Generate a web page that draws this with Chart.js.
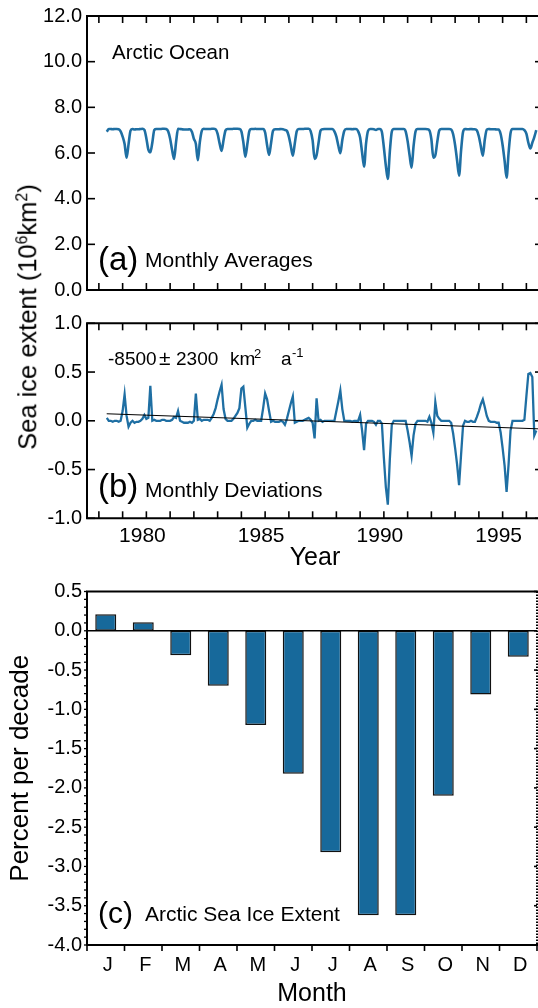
<!DOCTYPE html>
<html>
<head>
<meta charset="utf-8">
<script src="https://cdn.jsdelivr.net/npm/chart.js@4.4.1/dist/chart.umd.min.js"></script>
<style>
  html, body { margin: 0; padding: 0; background: #fff; }
  body { width: 538px; height: 1008px; overflow: hidden; position: relative; font-family: "Liberation Sans", Arial, sans-serif; }
  canvas { position: absolute; left: 0; }
  #chartA { top: 0; }
  #chartB { top: 300px; }
  #chartC { top: 575px; }
  .ytitle { position: absolute; white-space: nowrap; font-size: 25.5px; line-height: 1; color: #000;
            transform: translate(-50%, -50%) rotate(-90deg); }
  .ytitle sup { font-size: 0.62em; vertical-align: 0.55em; line-height: 0; }
</style>
</head>
<body>
<canvas id="chartA" width="560" height="300"></canvas>
<canvas id="chartB" width="560" height="275"></canvas>
<canvas id="chartC" width="560" height="433"></canvas>
<div class="ytitle" style="left:28px; top:317px">Sea ice extent (10<sup>6</sup>km<sup>2</sup>)</div>
<script>
const BLUE = '#1f6fa3';
const BAR_BLUE = '#17699b';
const FONT = "'Liberation Sans', Arial, Helvetica, sans-serif";

// monthly series start in November 1978
const startYear = 1978;
const startMonth = 11;

// (a) Arctic Ocean monthly average extent, 10^6 km^2
const extent = [
  6.93, 7.05,                                                             // 1978 Nov-Dec
  7.05, 7.04, 7.05, 7.05, 7.04, 6.95, 6.72, 6.39, 5.79, 6.39, 6.98, 7.05, // 1979
  7.03, 7.04, 7.04, 7.05, 7.06, 7.01, 6.64, 6.15, 6.03, 6.45, 7.01, 7.05, // 1980
  7.05, 7.05, 7.06, 7.06, 7.05, 6.95, 6.62, 6.13, 5.74, 6.48, 7.06, 7.05, // 1981
  7.04, 7.03, 7.03, 7.03, 7.04, 6.93, 6.62, 6.40, 5.68, 6.47, 6.97, 7.06, // 1982
  7.05, 7.05, 7.05, 7.06, 7.06, 7.04, 6.84, 6.42, 6.09, 6.57, 6.99, 7.05, // 1983
  7.05, 7.05, 7.06, 7.06, 7.06, 7.05, 6.95, 6.47, 5.84, 6.38, 6.95, 7.05, // 1984
  7.05, 7.06, 7.05, 7.05, 7.05, 7.05, 6.90, 6.34, 5.91, 6.44, 6.97, 7.04, // 1985
  7.04, 7.04, 7.05, 7.04, 7.01, 6.97, 6.72, 6.30, 5.88, 6.43, 6.96, 7.05, // 1986
  7.05, 7.05, 7.06, 7.06, 7.06, 6.96, 6.55, 5.74, 5.90, 6.45, 6.98, 7.04, // 1987
  7.05, 7.05, 7.05, 7.05, 7.05, 6.95, 6.72, 6.32, 5.99, 6.57, 6.97, 7.05, // 1988
  7.05, 7.05, 7.04, 7.05, 7.05, 6.95, 6.68, 6.02, 5.40, 6.42, 6.97, 7.05, // 1989
  7.05, 7.04, 7.01, 7.05, 7.05, 6.92, 6.24, 5.44, 4.86, 6.05, 6.93, 7.05, // 1990
  7.05, 7.05, 7.05, 7.05, 7.05, 6.95, 6.52, 5.90, 5.36, 6.30, 6.94, 7.05, // 1991
  7.05, 7.05, 7.05, 7.05, 7.04, 6.99, 6.60, 5.79, 5.90, 6.50, 6.99, 7.05, // 1992
  7.05, 7.05, 7.05, 7.05, 7.03, 6.82, 6.34, 5.67, 5.01, 6.10, 6.92, 7.05, // 1993
  7.04, 7.04, 7.05, 7.04, 7.04, 6.99, 6.72, 6.29, 5.88, 6.59, 7.02, 7.05, // 1994
  7.04, 7.04, 7.04, 7.03, 7.03, 6.83, 6.34, 5.66, 4.92, 6.00, 6.87, 7.05, // 1995
  7.05, 7.05, 7.05, 7.05, 7.05, 7.00, 6.85, 6.45, 6.20, 6.45, 6.70, 7.00  // 1996
];

// (b) monthly deviations, 10^6 km^2
const deviation = [
  0.03, 0.00,                                                                 // 1978 Nov-Dec
  0.00, -0.01, 0.00, 0.00, -0.01, 0.00, 0.10, 0.27, 0.05, -0.06, -0.02, 0.00,  // 1979
  -0.02, -0.01, -0.01, 0.00, 0.02, 0.06, 0.02, 0.03, 0.36, 0.00, 0.01, 0.00,   // 1980
  0.00, 0.00, 0.01, 0.01, 0.00, 0.00, 0.00, 0.01, 0.04, 0.03, 0.10, 0.00,      // 1981
  -0.01, -0.02, -0.02, -0.02, -0.01, -0.02, 0.00, 0.28, 0.01, 0.02, 0.00, 0.01, // 1982
  0.01, 0.01, 0.00, 0.03, 0.07, 0.13, 0.22, 0.30, 0.37, 0.12, 0.02, 0.00,      // 1983
  0.00, 0.00, 0.02, 0.05, 0.08, 0.13, 0.33, 0.35, 0.14, -0.07, -0.03, 0.00,    // 1984
  0.00, 0.01, 0.00, 0.00, 0.00, 0.13, 0.28, 0.22, 0.10, -0.01, 0.00, -0.01,    // 1985
  -0.01, -0.01, 0.00, -0.01, -0.04, 0.02, 0.10, 0.18, 0.25, -0.02, -0.01, 0.00, // 1986
  0.00, 0.00, 0.01, 0.02, 0.03, 0.01, -0.02, -0.18, 0.23, 0.00, 0.01, -0.01,   // 1987
  0.00, 0.00, 0.00, 0.00, 0.00, 0.00, 0.10, 0.20, 0.31, 0.12, 0.00, 0.00,      // 1988
  0.00, 0.00, -0.01, 0.00, 0.00, 0.00, 0.06, -0.10, -0.30, -0.03, 0.00, 0.00,  // 1989
  0.00, -0.01, -0.04, 0.00, 0.00, -0.03, -0.38, -0.68, -0.86, -0.40, -0.04, 0.00, // 1990
  0.00, 0.00, 0.00, 0.00, 0.00, 0.00, -0.10, -0.22, -0.36, -0.15, -0.03, 0.00, // 1991
  0.00, 0.00, 0.00, 0.00, -0.01, 0.04, -0.02, -0.12, 0.19, 0.05, 0.02, 0.00,   // 1992
  0.00, 0.00, 0.00, 0.00, -0.02, -0.13, -0.28, -0.45, -0.66, -0.35, -0.05, 0.00, // 1993
  -0.01, -0.01, 0.00, -0.01, -0.01, 0.04, 0.10, 0.17, 0.22, 0.14, 0.05, 0.00,  // 1994
  -0.01, -0.01, -0.01, -0.02, -0.02, -0.12, -0.28, -0.46, -0.73, -0.45, -0.10, 0.00, // 1995
  0.00, 0.00, 0.00, 0.00, 0.00, 0.01, 0.25, 0.48, 0.49, 0.45, -0.15, -0.10     // 1996
];

// linear trend, -8500 km^2 per year
const trendYears = [1978.83, 1997.2];
const trendValues = [0.072, -0.084];

const yearTicks = [1980, 1985, 1990, 1995];

// (c) trend by month, percent per decade
const months = ['J', 'F', 'M', 'A', 'M', 'J', 'J', 'A', 'S', 'O', 'N', 'D'];
const percentPerDecade = [0.21, 0.11, -0.31, -0.70, -1.20, -1.82, -2.82, -3.62, -3.62, -2.10, -0.81, -0.33];

Chart.defaults.font.family = FONT;
Chart.defaults.color = '#000';

const monthTime = i => startYear + (startMonth - 1 + i) / 12;

// year tick marks sit at mid-year
const yearMarks = [];
for (let yr = 1978; yr <= 1996; yr++) yearMarks.push(yr + 0.5);

function seg(ctx, x1, y1, x2, y2) {
  ctx.beginPath();
  ctx.moveTo(x1, y1);
  ctx.lineTo(x2, y2);
  ctx.stroke();
}

// box, tick marks and in-plot labels
const framePlugin = {
  id: 'frame',
  afterDatasetsDraw(chart, args, o) {
    const { ctx, chartArea: a } = chart;
    const x = chart.scales.x, y = chart.scales.y;
    ctx.save();
    ctx.strokeStyle = '#000';
    ctx.fillStyle = '#000';
    if (o.zeroLine) {
      ctx.lineWidth = 1.6;
      const p = y.getPixelForValue(0);
      seg(ctx, a.left, p, a.right, p);
    }
    ctx.lineWidth = 1.6;
    const len = o.tickLen || 7;
    (o.xTicks || []).forEach(v => {
      const p = x.getPixelForValue(v);
      if (o.xTop) seg(ctx, p, a.top, p, a.top + len);
      if (o.xBottom === 'in') seg(ctx, p, a.bottom, p, a.bottom - len);
      if (o.xBottom === 'out') seg(ctx, p, a.bottom, p, a.bottom + len);
    });
    (o.yTicks || []).forEach(v => {
      const p = y.getPixelForValue(v);
      if (o.yLeft) seg(ctx, a.left, p, a.left + o.yLeft, p);
      if (o.yRight) seg(ctx, a.right, p, a.right - o.yRight, p);
    });
    ctx.lineWidth = 1.3;
    (o.yMinor || []).forEach(v => {
      const p = y.getPixelForValue(v);
      seg(ctx, a.left, p, a.left - o.minorLen, p);
    });
    ctx.lineWidth = 2;
    seg(ctx, a.left - 1, a.top, a.right + 1, a.top);
    seg(ctx, a.left - 1, a.bottom, a.right + 1, a.bottom);
    seg(ctx, a.left, a.top, a.left, a.bottom);
    if (o.rightDotted) ctx.setLineDash([1.5, 1.5]);
    seg(ctx, a.right, a.top, a.right, a.bottom);
    ctx.setLineDash([]);
    (o.texts || []).forEach(t => {
      ctx.font = t.size + 'px ' + FONT;
      ctx.fillText(t.text, t.x, t.y);
    });
    ctx.restore();
  }
};

const fixY = s => { s.width = 87; s.paddingTop = 0; s.paddingBottom = 0; };
const fixX = h => s => { s.height = h; s.paddingLeft = 0; s.paddingRight = 0; };
const noGrid = { display: false, drawTicks: false };
const noBorder = { display: false };

// (a) monthly averages
new Chart(document.getElementById('chartA'), {
  type: 'line',
  data: {
    datasets: [{
      data: extent.map((v, i) => ({ x: monthTime(i), y: v })),
      borderColor: BLUE,
      borderWidth: 2.6,
      pointRadius: 0,
      cubicInterpolationMode: 'monotone'
    }]
  },
  options: {
    responsive: false,
    animation: false,
    layout: { padding: { top: 16, bottom: 10, left: 0, right: 17 } },
    plugins: {
      legend: { display: false },
      tooltip: { enabled: false },
      frame: {
        xTicks: yearMarks, xTop: true, xBottom: 'in', tickLen: 7,
        yTicks: [0, 2, 4, 6, 8, 10, 12], yLeft: 8, yRight: 8,
        texts: [
          { text: 'Arctic Ocean', x: 112, y: 59, size: 20.5 },
          { text: '(a)', x: 98, y: 270, size: 33 },
          { text: 'Monthly Averages', x: 145, y: 267, size: 21 }
        ]
      }
    },
    scales: {
      x: { type: 'linear', min: 1978, max: 1997.2, display: false },
      y: {
        min: 0, max: 12,
        afterFit: fixY,
        grid: noGrid, border: noBorder,
        ticks: { stepSize: 2, padding: 5, font: { size: 20 }, callback: v => v.toFixed(1) }
      }
    }
  },
  plugins: [framePlugin]
});

// (b) monthly deviations with trend
new Chart(document.getElementById('chartB'), {
  type: 'line',
  data: {
    datasets: [
      {
        data: trendYears.map((t, i) => ({ x: t, y: trendValues[i] })),
        borderColor: '#000',
        borderWidth: 1,
        pointRadius: 0
      },
      {
        data: deviation.map((v, i) => ({ x: monthTime(i), y: v })),
        borderColor: BLUE,
        borderWidth: 2.3,
        pointRadius: 0
      }
    ]
  },
  options: {
    responsive: false,
    animation: false,
    layout: { padding: { top: 23.3, bottom: 0, left: 0, right: 17 } },
    plugins: {
      legend: { display: false },
      tooltip: { enabled: false },
      frame: {
        xTicks: yearMarks, xTop: true, xBottom: 'in', tickLen: 7,
        yTicks: [-1, -0.5, 0, 0.5, 1], yLeft: 8, yRight: 8,
        texts: [
          { text: '-8500', x: 108, y: 65, size: 19 },
          { text: '\u00b1', x: 159, y: 65, size: 21 },
          { text: '2300', x: 176, y: 65, size: 19 },
          { text: 'km', x: 230, y: 65, size: 19 },
          { text: '2', x: 254, y: 58, size: 13 },
          { text: 'a', x: 281, y: 65, size: 19 },
          { text: '-1', x: 292, y: 57, size: 13 },
          { text: '(b)', x: 98, y: 197, size: 33 },
          { text: 'Monthly Deviations', x: 145, y: 197, size: 21 }
        ]
      }
    },
    scales: {
      x: {
        type: 'linear', min: 1978, max: 1997.2,
        afterBuildTicks: s => { s.ticks = yearTicks.map(v => ({ value: v + 0.5 })); },
        afterFit: fixX(56.7),
        grid: noGrid, border: noBorder,
        ticks: { autoSkip: false, maxRotation: 0, padding: 5.7, labelOffset: -4, font: { size: 21 },
                 callback: v => String(Math.floor(v)) },
        title: { display: true, text: 'Year', font: { size: 25, lineHeight: 1 }, padding: { top: 0, bottom: 4.5 } }
      },
      y: {
        min: -1, max: 1,
        afterFit: fixY,
        grid: noGrid, border: noBorder,
        ticks: { stepSize: 0.5, padding: 5, font: { size: 20 }, callback: v => v.toFixed(1) }
      }
    }
  },
  plugins: [framePlugin]
});

// (c) trend per calendar month
const minorTicks = [];
for (let k = -40; k <= 5; k++) minorTicks.push(k / 10);

new Chart(document.getElementById('chartC'), {
  type: 'bar',
  data: {
    labels: months,
    datasets: [{
      data: percentPerDecade,
      backgroundColor: BAR_BLUE,
      borderColor: '#111',
      borderWidth: 1.5,
      borderSkipped: false,
      barPercentage: 0.56,
      categoryPercentage: 1
    }]
  },
  options: {
    responsive: false,
    animation: false,
    layout: { padding: { top: 16.5, bottom: 0, left: 0, right: 23 } },
    plugins: {
      legend: { display: false },
      tooltip: { enabled: false },
      frame: {
        zeroLine: true,
        xTicks: [-0.5, 0.5, 1.5, 2.5, 3.5, 4.5, 5.5, 6.5, 7.5, 8.5, 9.5, 10.5, 11.5], xBottom: 'out', tickLen: 6,
        yTicks: [-4, -3.5, -3, -2.5, -2, -1.5, -1, -0.5, 0, 0.5], yRight: 3,
        yMinor: minorTicks, minorLen: 3,
        rightDotted: true,
        texts: [
          { text: '(c)', x: 98, y: 348, size: 30 },
          { text: 'Arctic Sea Ice Extent', x: 145, y: 346, size: 21 }
        ]
      }
    },
    scales: {
      x: {
        offset: true,
        afterFit: fixX(63),
        grid: noGrid, border: noBorder,
        ticks: { padding: 8.7, labelOffset: 2, font: { size: 20 }, maxRotation: 0, autoSkip: false },
        title: { display: true, text: 'Month', font: { size: 25, lineHeight: 1 }, padding: { top: 0, bottom: 1 } }
      },
      y: {
        min: -4, max: 0.5,
        afterFit: fixY,
        grid: noGrid, border: noBorder,
        ticks: { stepSize: 0.5, padding: 5, font: { size: 20 }, callback: v => v.toFixed(1) },
        title: { display: true, text: 'Percent per decade', font: { size: 26, lineHeight: 1 }, padding: { top: 8, bottom: 0 } }
      }
    }
  },
  plugins: [framePlugin]
});
</script>
</body>
</html>
